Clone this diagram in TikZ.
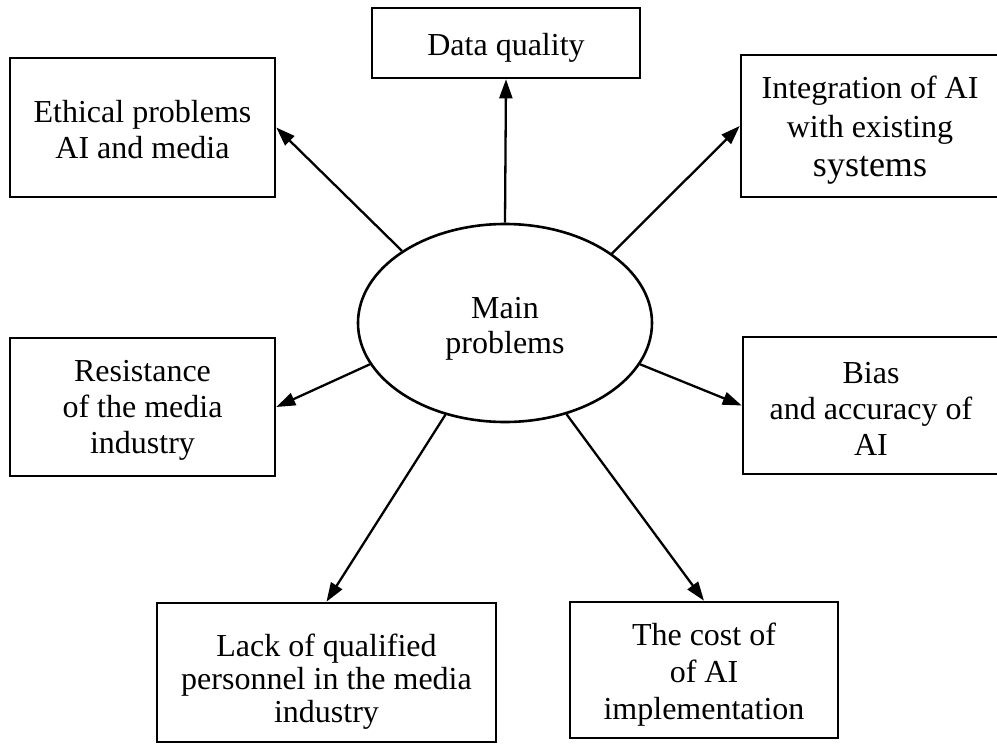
\documentclass[tikz,border=0pt]{standalone}
\usepackage{fontspec}
\setmainfont{Liberation Serif}
\usetikzlibrary{arrows.meta,shapes.geometric}
\newcommand\upshim[1]{\rule{0pt}{#1pt}}
\tikzset{
  box/.style={draw=black,line width=2.6pt,rectangle,inner sep=0pt,align=center,
    font=\fontsize{32}{36}\selectfont},
  conn/.style={line width=2.3pt,-{Triangle[length=19pt,width=13pt]}},
}
\begin{document}
\begin{tikzpicture}[x=1pt,y=-1pt]
\useasboundingbox (0,0) rectangle (997,744);
\clip (0,0) rectangle (997,744);
\node[draw=black,line width=2.6pt,ellipse,minimum width=294pt,minimum height=198pt,inner sep=0pt,align=center,font=\fontsize{32}{35}\selectfont] (main) at (505,323) {\upshim{32}Main\\problems};
\node[box,minimum width=268pt,minimum height=70pt] (dq) at (506,43) {\upshim{32}Data quality};
\node[box,minimum width=265pt,minimum height=139pt] (eth) at (142.5,127.5) {\upshim{27}Ethical problems\\AI and media};
\node[box,minimum width=258pt,minimum height=142pt,font=\fontsize{32}{39}\selectfont] (int) at (870,126) {\upshim{31}Integration of AI\\with existing\\{\fontsize{36}{41}\selectfont systems}};
\node[box,minimum width=265pt,minimum height=138pt] (res) at (142.5,407) {\upshim{27}Resistance\\of the media\\industry};
\node[box,minimum width=256pt,minimum height=137pt] (bias) at (871,405.5) {\upshim{27}Bias\\and accuracy of\\AI};
\node[box,minimum width=339pt,minimum height=139pt,font=\fontsize{32}{33}\selectfont] (lack) at (326.5,672.5) {\upshim{40}Lack of qualified\\personnel in the media\\industry};
\node[box,minimum width=268pt,minimum height=136pt,font=\fontsize{32}{37}\selectfont] (cost) at (704,670) {\upshim{31}The cost of\\of AI\\implementation};
\draw[conn] (main.90) -- (dq.south);
\draw[conn] (main.145.5) -- (eth.east);
\draw[conn] (main.33.4) -- (int.west);
\draw[conn] (main.197.5) -- (res.east);
\draw[conn] (main.343.6) -- (bias.west);
\draw[conn] (main.237.3) -- (lack.north);
\draw[conn] (main.304.4) -- (cost.north);
\end{tikzpicture}
\end{document}
